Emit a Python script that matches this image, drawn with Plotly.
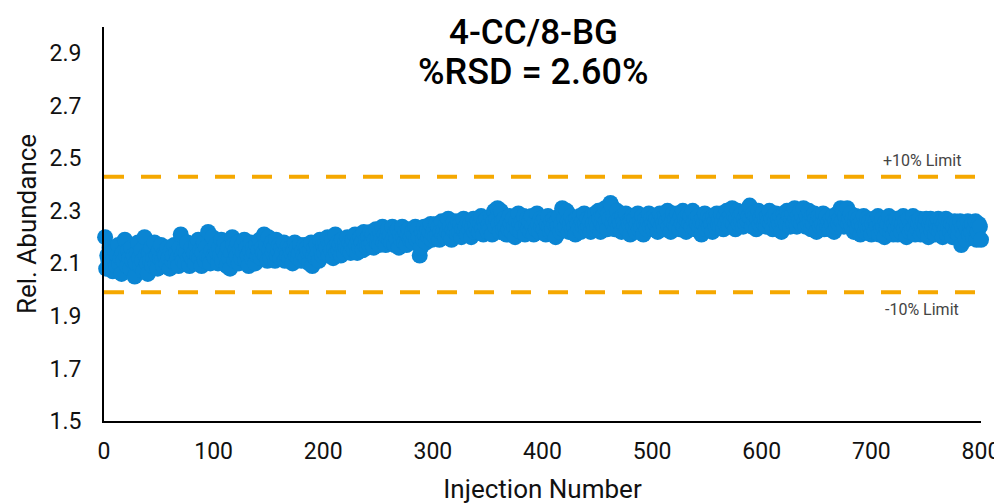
import plotly.graph_objects as go

# ---- data ----
title_lines = ["4-CC/8-BG", "%RSD = 2.60%"]
x_label = "Injection Number"
y_label = "Rel. Abundance"
x_ticks = [0, 100, 200, 300, 400, 500, 600, 700, 800]
y_ticks = [1.5, 1.7, 1.9, 2.1, 2.3, 2.5, 2.7, 2.9]
limit_x = [0, 800]
upper_limit = [2.43, 2.43]
lower_limit = [1.99, 1.99]
limit_labels = ["+10% Limit", "-10% Limit"]

rel_abundance = [
    2.20, 2.08, 2.13, 2.11, 2.16, 2.10, 2.14, 2.07, 2.12, 2.15, 2.09, 2.13, 2.17, 2.10, 2.12, 2.06, 2.14, 2.11, 2.19, 2.13,
    2.09, 2.15, 2.12, 2.08, 2.16, 2.11, 2.13, 2.05, 2.10, 2.14, 2.18, 2.12, 2.09, 2.15, 2.11, 2.07, 2.20, 2.13, 2.10, 2.06,
    2.14, 2.11, 2.16, 2.09, 2.12, 2.18, 2.10, 2.13, 2.08, 2.15, 2.12, 2.17, 2.11, 2.09, 2.14, 2.13, 2.10, 2.16, 2.12, 2.08,
    2.15, 2.11, 2.13, 2.17, 2.10, 2.14, 2.12, 2.09, 2.16, 2.21, 2.13, 2.11, 2.15, 2.10, 2.14, 2.18, 2.12, 2.09, 2.13, 2.16,
    2.11, 2.14, 2.10, 2.17, 2.13, 2.19, 2.12, 2.15, 2.09, 2.14, 2.18, 2.11, 2.16, 2.13, 2.22, 2.12, 2.10, 2.15, 2.20, 2.13,
    2.12, 2.17, 2.14, 2.10, 2.16, 2.13, 2.19, 2.11, 2.15, 2.18, 2.13, 2.09, 2.16, 2.12, 2.08, 2.14, 2.20, 2.17, 2.11, 2.15,
    2.13, 2.18, 2.10, 2.15, 2.12, 2.17, 2.14, 2.19, 2.11, 2.16, 2.13, 2.09, 2.15, 2.18, 2.12, 2.16, 2.14, 2.10, 2.17, 2.13,
    2.15, 2.19, 2.12, 2.16, 2.14, 2.21, 2.13, 2.17, 2.11, 2.20, 2.15, 2.12, 2.18, 2.14, 2.16, 2.11, 2.19, 2.13, 2.15, 2.17,
    2.12, 2.16, 2.14, 2.18, 2.11, 2.15, 2.13, 2.17, 2.12, 2.16, 2.14, 2.10, 2.15, 2.18, 2.13, 2.16, 2.12, 2.14, 2.17, 2.11,
    2.15, 2.13, 2.17, 2.12, 2.16, 2.14, 2.10, 2.15, 2.18, 2.09, 2.13, 2.16, 2.12, 2.17, 2.14, 2.11, 2.19, 2.15, 2.13, 2.17,
    2.14, 2.18, 2.16, 2.20, 2.13, 2.17, 2.15, 2.19, 2.12, 2.16, 2.21, 2.14, 2.18, 2.15, 2.17, 2.13, 2.19, 2.16, 2.14, 2.18,
    2.16, 2.20, 2.15, 2.18, 2.14, 2.17, 2.19, 2.15, 2.21, 2.17, 2.14, 2.19, 2.16, 2.20, 2.18, 2.15, 2.22, 2.17, 2.19, 2.16,
    2.20, 2.17, 2.22, 2.18, 2.21, 2.16, 2.19, 2.23, 2.18, 2.20, 2.17, 2.22, 2.19, 2.24, 2.18, 2.21, 2.17, 2.20, 2.23, 2.19,
    2.21, 2.18, 2.24, 2.20, 2.17, 2.22, 2.19, 2.23, 2.16, 2.21, 2.19, 2.24, 2.20, 2.18, 2.22, 2.17, 2.21, 2.23, 2.19, 2.20,
    2.22, 2.18, 2.21, 2.24, 2.19, 2.23, 2.20, 2.13, 2.16, 2.22, 2.19, 2.24, 2.21, 2.18, 2.23, 2.20, 2.22, 2.25, 2.19, 2.21,
    2.23, 2.20, 2.25, 2.21, 2.24, 2.19, 2.22, 2.26, 2.21, 2.23, 2.20, 2.25, 2.22, 2.27, 2.21, 2.24, 2.19, 2.23, 2.26, 2.22,
    2.24, 2.21, 2.26, 2.22, 2.25, 2.20, 2.23, 2.27, 2.22, 2.24, 2.21, 2.26, 2.23, 2.25, 2.20, 2.24, 2.27, 2.22, 2.25, 2.23,
    2.26, 2.22, 2.25, 2.28, 2.23, 2.21, 2.26, 2.24, 2.27, 2.22, 2.25, 2.23, 2.28, 2.21, 2.26, 2.30, 2.24, 2.27, 2.31, 2.25,
    2.22, 2.30, 2.26, 2.23, 2.27, 2.24, 2.21, 2.26, 2.23, 2.28, 2.25, 2.22, 2.27, 2.24, 2.20, 2.26, 2.23, 2.29, 2.25, 2.22,
    2.26, 2.24, 2.28, 2.21, 2.25, 2.27, 2.23, 2.26, 2.22, 2.28, 2.24, 2.21, 2.26, 2.23, 2.29, 2.25, 2.22, 2.27, 2.24, 2.26,
    2.23, 2.27, 2.21, 2.25, 2.28, 2.24, 2.22, 2.26, 2.23, 2.27, 2.25, 2.20, 2.26, 2.24, 2.28, 2.22, 2.25, 2.31, 2.23, 2.27,
    2.24, 2.30, 2.26, 2.22, 2.25, 2.28, 2.23, 2.26, 2.24, 2.21, 2.27, 2.25, 2.23, 2.28, 2.22, 2.26, 2.24, 2.29, 2.25, 2.23,
    2.27, 2.24, 2.26, 2.22, 2.28, 2.25, 2.23, 2.29, 2.26, 2.24, 2.30, 2.27, 2.22, 2.25, 2.28, 2.24, 2.31, 2.26, 2.23, 2.29,
    2.27, 2.33, 2.32, 2.25, 2.28, 2.23, 2.26, 2.30, 2.24, 2.27, 2.25, 2.22, 2.28, 2.26, 2.24, 2.29, 2.23, 2.26, 2.25, 2.21,
    2.26, 2.28, 2.24, 2.27, 2.22, 2.25, 2.29, 2.23, 2.26, 2.24, 2.28, 2.21, 2.25, 2.27, 2.23, 2.26, 2.29, 2.24, 2.27, 2.25,
    2.23, 2.28, 2.25, 2.27, 2.22, 2.26, 2.29, 2.24, 2.27, 2.25, 2.23, 2.28, 2.26, 2.30, 2.24, 2.27, 2.22, 2.26, 2.29, 2.25,
    2.27, 2.24, 2.29, 2.26, 2.23, 2.28, 2.25, 2.30, 2.24, 2.27, 2.22, 2.26, 2.29, 2.25, 2.28, 2.24, 2.30, 2.26, 2.23, 2.27,
    2.25, 2.28, 2.24, 2.26, 2.21, 2.27, 2.25, 2.29, 2.23, 2.26, 2.28, 2.24, 2.27, 2.25, 2.22, 2.28, 2.26, 2.24, 2.29, 2.25,
    2.27, 2.24, 2.29, 2.26, 2.23, 2.28, 2.25, 2.30, 2.27, 2.24, 2.28, 2.26, 2.31, 2.25, 2.28, 2.23, 2.27, 2.30, 2.25, 2.28,
    2.26, 2.29, 2.24, 2.27, 2.25, 2.30, 2.26, 2.28, 2.32, 2.27, 2.24, 2.29, 2.26, 2.28, 2.23, 2.27, 2.30, 2.25, 2.28, 2.26,
    2.29, 2.25, 2.27, 2.24, 2.28, 2.26, 2.30, 2.25, 2.27, 2.23, 2.28, 2.26, 2.29, 2.24, 2.27, 2.25, 2.28, 2.22, 2.26, 2.29,
    2.27, 2.25, 2.30, 2.26, 2.28, 2.24, 2.27, 2.29, 2.25, 2.31, 2.27, 2.24, 2.28, 2.26, 2.30, 2.25, 2.28, 2.31, 2.26, 2.24,
    2.28, 2.25, 2.30, 2.26, 2.23, 2.28, 2.25, 2.29, 2.27, 2.22, 2.26, 2.28, 2.24, 2.27, 2.25, 2.29, 2.23, 2.26, 2.28, 2.24,
    2.26, 2.23, 2.27, 2.25, 2.28, 2.22, 2.26, 2.24, 2.29, 2.25, 2.27, 2.31, 2.26, 2.30, 2.24, 2.28, 2.26, 2.31, 2.25, 2.27,
    2.29, 2.24, 2.27, 2.22, 2.26, 2.28, 2.23, 2.27, 2.25, 2.21, 2.26, 2.24, 2.28, 2.22, 2.25, 2.27, 2.23, 2.26, 2.24, 2.21,
    2.25, 2.27, 2.22, 2.26, 2.24, 2.28, 2.21, 2.25, 2.23, 2.27, 2.24, 2.20, 2.26, 2.23, 2.25, 2.28, 2.22, 2.24, 2.26, 2.21,
    2.25, 2.23, 2.27, 2.21, 2.24, 2.26, 2.22, 2.25, 2.28, 2.23, 2.26, 2.20, 2.24, 2.27, 2.22, 2.25, 2.23, 2.28, 2.24, 2.21,
    2.26, 2.23, 2.25, 2.27, 2.21, 2.24, 2.26, 2.22, 2.25, 2.27, 2.23, 2.20, 2.25, 2.27, 2.22, 2.24, 2.26, 2.21, 2.25, 2.23,
    2.27, 2.22, 2.24, 2.26, 2.20, 2.25, 2.23, 2.27, 2.21, 2.24, 2.26, 2.22, 2.25, 2.20, 2.24, 2.26, 2.22, 2.25, 2.21, 2.23,
    2.26, 2.17, 2.24, 2.21, 2.25, 2.19, 2.23, 2.26, 2.21, 2.24, 2.22, 2.25, 2.20, 2.23, 2.26, 2.19, 2.22, 2.25, 2.24, 2.19,
]
injection_number = list(range(1, len(rel_abundance) + 1))

BLUE = "#0A85D3"
ORANGE = "#F5A800"
FONT = "Roboto"

fig = go.Figure()
for lim in (upper_limit, lower_limit):
    fig.add_trace(go.Scatter(
        x=limit_x, y=lim, mode="lines",
        line=dict(color=ORANGE, width=4, dash="20px,17px"),
        hoverinfo="skip", showlegend=False,
    ))
fig.add_trace(go.Scatter(
    x=injection_number, y=rel_abundance, mode="markers",
    marker=dict(color=BLUE, size=16, line=dict(width=0)),
    cliponaxis=False, showlegend=False,
))

fig.add_annotation(x=746, y=2.49, xref="x", yref="y", text=limit_labels[0],
                   showarrow=False, font=dict(family=FONT, size=16, color="#444444"))
fig.add_annotation(x=746, y=1.925, xref="x", yref="y", text=limit_labels[1],
                   showarrow=False, font=dict(family=FONT, size=16, color="#444444"))

# title lines placed inside the top of the plot area, as in the reference
title_y = [0.987, 0.886]
title_size = [35, 36]
for txt, ty, ts in zip(title_lines, title_y, title_size):
    fig.add_annotation(x=0.4903, y=ty, xref="paper", yref="paper", text=txt,
                       showarrow=False, xanchor="center", yanchor="middle",
                       font=dict(family=FONT, size=ts, color="#000000", weight=500))

# The page body has an 8px default margin, so the figure is sized/offset to compensate.
fig.update_layout(
    width=994, height=496,
    margin=dict(l=96, r=21, t=19, b=83, autoexpand=False),
    paper_bgcolor="white", plot_bgcolor="white",
    font=dict(family=FONT, color="#111111"),
    xaxis=dict(
        range=[0, 800], tickvals=x_ticks, ticks="", showgrid=False, zeroline=False,
        showline=True, linecolor="#000000", linewidth=2, automargin=False,
        tickfont=dict(family=FONT, size=23, color="#111111"),
        title=dict(text=x_label, font=dict(family=FONT, size=26, color="#111111"), standoff=17),
        ticklabelstandoff=8,
    ),
    yaxis=dict(
        range=[1.5, 3.0], tickvals=y_ticks, tickformat=".1f", ticks="", showgrid=False,
        zeroline=False, showline=True, linecolor="#000000", linewidth=2, automargin=False,
        tickfont=dict(family=FONT, size=23, color="#111111"),
        title=dict(text=y_label, font=dict(family=FONT, size=26, color="#111111"), standoff=5),
        ticklabelstandoff=16,
    ),
)

fig.write_html("out.html")
